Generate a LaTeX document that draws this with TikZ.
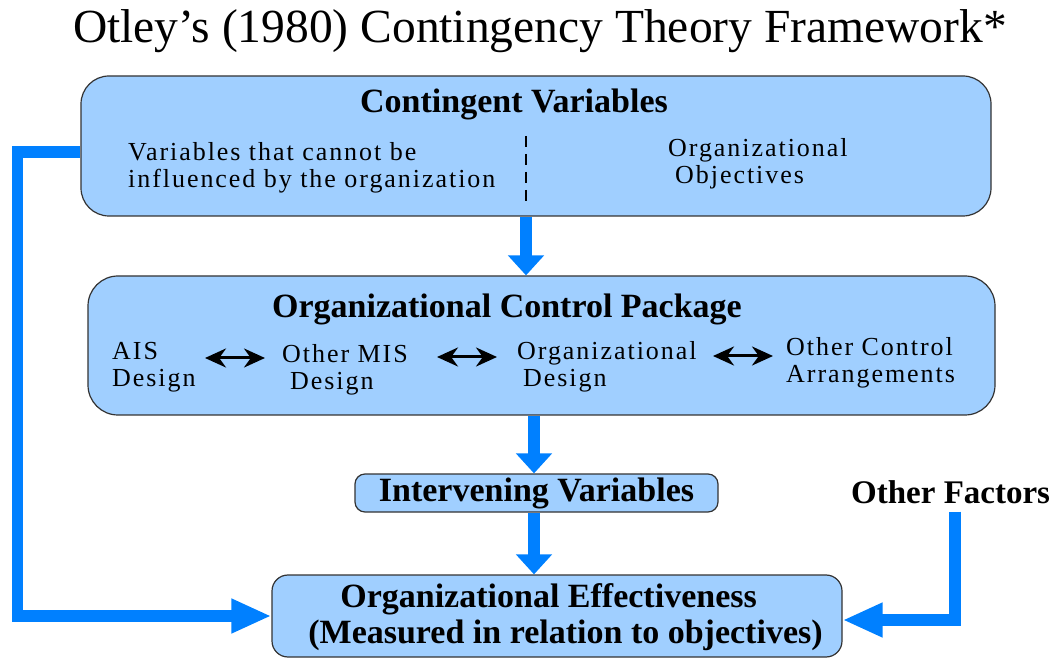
\documentclass[tikz,border=0pt]{standalone}
\usepackage{fontspec}
\setmainfont{Liberation Serif}
\newfontfamily\spacedserif[LetterSpace=7.5]{Liberation Serif}
\usetikzlibrary{arrows.meta}
\definecolor{boxfill}{RGB}{160,207,255}
\definecolor{flowblue}{RGB}{0,128,255}
\begin{document}
\begin{tikzpicture}[x=1pt,y=-1pt,
  panel/.style={draw=black!80, line width=1.2pt, fill=boxfill, inner sep=0pt},
  heading/.style={font=\fontsize{34}{38}\selectfont\bfseries, inner sep=0pt, anchor=base},
  smalltext/.style={font=\spacedserif\fontsize{26}{27}\selectfont, inner sep=0pt, align=left, anchor=base west},
  flow/.style={draw=flowblue, line width=12pt, -{Triangle[width=35pt,length=20pt]}},
  sideflow/.style={draw=flowblue, line width=11.5pt, -{Triangle[width=32pt,length=40pt]}},
  link/.style={draw=black, line width=3pt, {Stealth[length=21pt,width=19pt]}-{Stealth[length=21pt,width=19pt]}},
  divider/.style={draw=black, line width=1.5pt, dash pattern=on 11pt off 7pt},
]
\useasboundingbox (0,0) rectangle (1053,660);

% title
\node[font=\fontsize{47.5}{50}\selectfont, inner sep=0pt, anchor=base] (title) at (540,43)
  {Otley's (1980) Contingency Theory Framework*};

% panels
\node[panel, minimum width=910pt, minimum height=140pt, rounded corners=28pt] (cv) at (536,146) {};
\node[panel, minimum width=907pt, minimum height=139pt, rounded corners=30pt] (ocp) at (541.5,345.5) {};
\node[panel, minimum width=363pt, minimum height=38pt, rounded corners=10pt,
      font=\fontsize{34}{38}\selectfont\bfseries] (iv) at (536.5,493) {Intervening Variables};
\node[panel, minimum width=570pt, minimum height=82pt, rounded corners=16pt] (oe) at (557,616) {};

% contingent variables (multi-line nodes are placed by their last baseline)
\node[heading] (cvtitle) at (514,113) {Contingent Variables};
\node[smalltext] (external) at (128,188) {Variables that cannot be\\influenced by the organization};
\node[smalltext] (objectives) at (668,184) {Organizational\\\hspace*{7pt}Objectives};
\draw[divider] (526,136) -- (526,207);

% organizational control package
\node[heading] (ocptitle) at (507,318) {Organizational Control Package};
\node[smalltext] (ais) at (112,387) {AIS\\Design};
\node[smalltext] (mis) at (282,390) {Other MIS\\\hspace*{8pt}Design};
\node[smalltext] (orgdesign) at (517,387) {Organizational\\\hspace*{6pt}Design};
\node[smalltext] (controls) at (786,383) {Other Control\\Arrangements};
\coordinate (l1a) at (205,358); \coordinate (l1b) at (265,358);
\coordinate (l2a) at (437,357); \coordinate (l2b) at (497,357);
\coordinate (l3a) at (713,356); \coordinate (l3b) at (773,356);
\draw[link] (l1a) -- (l1b);
\draw[link] (l2a) -- (l2b);
\draw[link] (l3a) -- (l3b);

% effectiveness
\node[font=\fontsize{34}{36}\selectfont\bfseries, inner sep=0pt, align=left] (oetext) at (565.5,617)
  {\hspace*{32pt}Organizational Effectiveness\\(Measured in relation to objectives)};

% other factors
\node[font=\fontsize{33}{36}\selectfont\bfseries, inner sep=0pt, anchor=base west] (of) at (851,503) {Other Factors};

% flows
\coordinate (xa) at (526,0);
\coordinate (xb) at (534,0);
\coordinate (xc) at (955,0);
\coordinate (ofbot) at ([yshift=-8pt]of.south);
\draw[flow] (cv.south -| xa) -- (ocp.north -| xa);
\draw[flow] (ocp.south -| xb) -- (iv.north -| xb);
\draw[flow] (iv.south -| xb) -- (oe.north -| xb);
\draw[sideflow] ([yshift=-6pt]cv.west) -- ++(-63,0) |- (oe.west);
\draw[sideflow] (ofbot -| xc) |- ([yshift=-4pt]oe.east);
\end{tikzpicture}
\end{document}
